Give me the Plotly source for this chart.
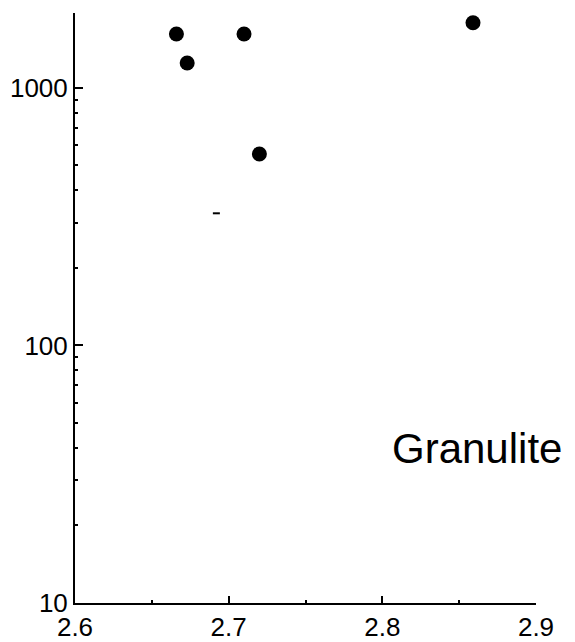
import plotly.graph_objects as go

# Density (g/cm3) vs. value on log scale, granulite samples
density = [2.666, 2.673, 2.710, 2.720, 2.859]
value = [1620, 1250, 1620, 554, 1790]

# small dash mark
dash_x = [2.692]
dash_y = [326]

x_ticks = [2.6, 2.7, 2.8, 2.9]
x_tick_labels = ["2.6", "2.7", "2.8", "2.9"]
x_minor = [2.65, 2.75, 2.85]
y_ticks = [10, 100, 1000]
y_tick_labels = ["10", "100", "1000"]
y_minor = [20, 30, 40, 50, 60, 70, 80, 90, 200, 300, 400, 500, 600, 700, 800, 900]

label = "Granulite"

font_family = "Liberation Sans, Arial, sans-serif"

W, H = 575, 642
plot_l, plot_r, plot_t, plot_b = 75, 536, 13, 603

fig = go.Figure()
fig.add_trace(go.Scatter(
    x=density, y=value, mode="markers",
    marker=dict(symbol="circle", size=15, color="black"),
    showlegend=False,
))
fig.add_trace(go.Scatter(
    x=dash_x, y=dash_y, mode="markers",
    marker=dict(symbol="line-ew", size=5, line=dict(width=2, color="black")),
    showlegend=False,
))

fig.add_annotation(
    x=(477 - plot_l) / (plot_r - plot_l),
    y=(plot_b - 448) / (plot_b - plot_t),
    xref="paper", yref="paper", xanchor="center", yanchor="middle",
    text=label, showarrow=False,
    font=dict(family=font_family, size=42, color="black"),
)

fig.update_layout(
    width=W, height=H,
    margin=dict(l=plot_l, r=W - plot_r, t=plot_t, b=H - plot_b),
    paper_bgcolor="white", plot_bgcolor="white",
    font=dict(family=font_family, color="black"),
    xaxis=dict(
        range=[2.6, 2.9], showgrid=False, zeroline=False, automargin=False,
        showline=True, linecolor="black", linewidth=2,
        ticks="inside", ticklen=7, tickwidth=2, tickcolor="black",
        tickmode="array", tickvals=x_ticks, ticktext=x_tick_labels,
        tickfont=dict(size=26, family=font_family, color="black"),
        minor=dict(tickmode="array", tickvals=x_minor, ticks="inside",
                   ticklen=3, tickwidth=2, tickcolor="black", showgrid=False),
    ),
    yaxis=dict(
        type="log", range=[1, 3.291], showgrid=False, zeroline=False,
        automargin=False,
        showline=True, linecolor="black", linewidth=2,
        ticks="inside", ticklen=8, tickwidth=2, tickcolor="black",
        tickmode="array", tickvals=y_ticks, ticktext=y_tick_labels,
        tickfont=dict(size=26, family=font_family, color="black"),
        minor=dict(tickmode="array", tickvals=y_minor, ticks="inside",
                   ticklen=3, tickwidth=2, tickcolor="black", showgrid=False),
    ),
)

fig.write_html("out.html")
